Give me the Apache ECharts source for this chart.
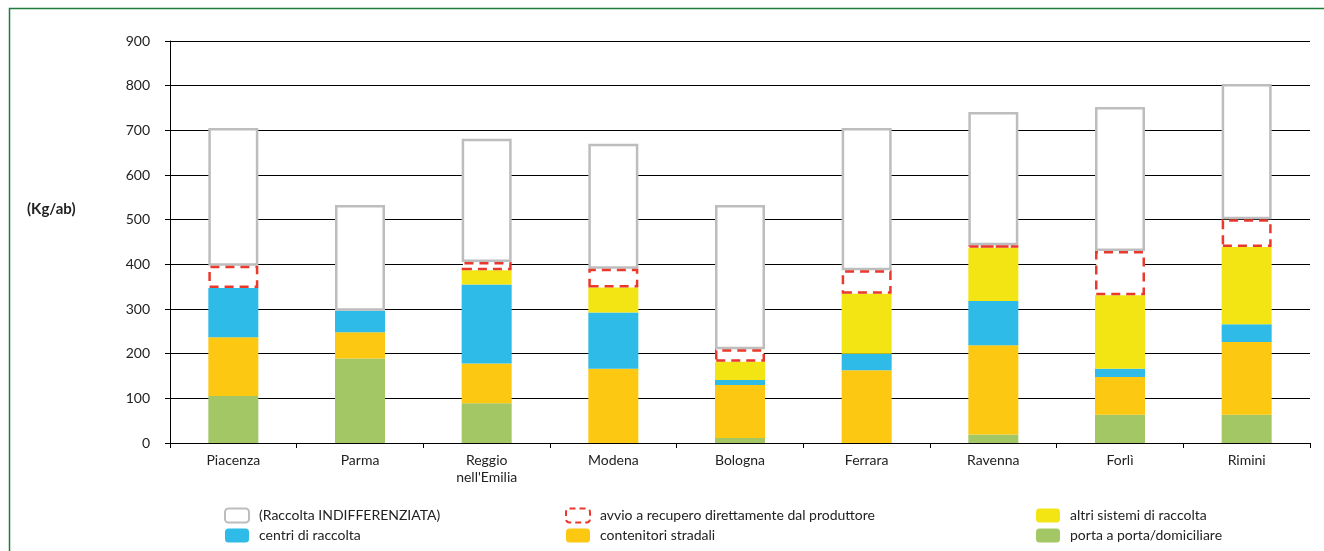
<!DOCTYPE html>
<html>
<head>
<meta charset="utf-8">
<script src="https://cdn.jsdelivr.net/npm/echarts@6/dist/echarts.min.js"></script>
<style>
html,body{margin:0;padding:0;background:#fff;}
#chart{width:1324px;height:551px;}
</style>
</head>
<body>
<div id="chart"></div>
<script>
const categories = ['Piacenza','Parma',"Reggio\nnell'Emilia",'Modena','Bologna','Ferrara','Ravenna','Forlì','Rimini'];
const yTicks = [0,100,200,300,400,500,600,700,800,900];
const porta = [105,189,89,0,11,0,19,63,63];
const contenitori = [132,59,89,166,119,163,200,85,163];
const centri = [110,48,177,126,11,37,99,18,40];
const altri = [0,0,32,56,41,134,119,165,173];
const avvio = [50,0,18,42,28,53,6,99,62];
const indifferenziata = [308,237,276,280,323,318,298,322,303];

const names = {
  ind: '(Raccolta INDIFFERENZIATA)',
  avv: 'avvio a recupero direttamente dal produttore',
  alt: 'altri sistemi di raccolta',
  cen: 'centri di raccolta',
  con: 'contenitori stradali',
  por: 'porta a porta/domiciliare'
};
const FONT = "Lato,'Open Sans',sans-serif";
const nz = a => a.map(v => v === 0 ? null : v);

function bar(name, data, style, z) {
  return {name, type:'bar', stack:'tot', data, barWidth:50, itemStyle:style, z:z||2,
    emphasis:{disabled:true}, silent:true};
}

const chart = echarts.init(document.getElementById('chart'), null, {renderer:'canvas'});
const legendBase = {orient:'vertical', top:507, padding:0, itemWidth:24, itemHeight:14, itemGap:3,
  textStyle:{fontFamily:FONT, fontSize:14, color:'#222', lineHeight:17, padding:[0,0,0,5]}, selectedMode:false};
chart.setOption({
  animation:false,
  grid:{left:170, right:14, top:41, bottom:108},
  xAxis:{type:'category', data:categories,
    axisLine:{lineStyle:{color:'#000', width:1}},
    axisTick:{show:true, length:5, lineStyle:{color:'#000'}},
    axisLabel:{fontFamily:FONT, fontSize:14, color:'#222', margin:9, lineHeight:17, interval:0}},
  yAxis:{type:'value', min:0, max:900, interval:100,
    axisLine:{show:true, lineStyle:{color:'#000'}},
    axisTick:{show:true, length:5, lineStyle:{color:'#000'}},
    axisLabel:{fontFamily:FONT, fontSize:14, color:'#222', margin:20,
      formatter: v => yTicks.indexOf(v) >= 0 ? String(v) : ''},
    splitLine:{lineStyle:{color:'#000', width:1}}},
  legend:[
    Object.assign({}, legendBase, {left:224, data:[
      {name:names.ind, itemStyle:{color:'#fff', borderColor:'#bdbdbd', borderWidth:2, borderType:'solid'}},
      {name:names.cen, itemStyle:{color:'#2ebbe8', borderWidth:0}}]}),
    Object.assign({}, legendBase, {left:565, data:[
      {name:names.avv, itemStyle:{color:'#fff', borderColor:'#e8392c', borderWidth:2, borderType:[6,4]}},
      {name:names.con, itemStyle:{color:'#fcc812', borderWidth:0}}]}),
    Object.assign({}, legendBase, {left:1036, data:[
      {name:names.alt, itemStyle:{color:'#f3e514', borderWidth:0}},
      {name:names.por, itemStyle:{color:'#a3c764', borderWidth:0}}]})
  ],
  graphic:[
    {type:'rect', shape:{x:9.5, y:8.5, width:1400, height:600}, style:{fill:null, stroke:'#1e7b3c', lineWidth:1.5}, silent:true},
    {type:'text', left:27, top:202, style:{text:'(Kg/ab)', font:"bold 15px " + FONT, fill:'#222'}}
  ],
  series:[
    bar(names.por, porta, {color:'#a3c764'}),
    bar(names.con, contenitori, {color:'#fcc812'}),
    bar(names.cen, centri, {color:'#2ebbe8'}),
    bar(names.alt, altri, {color:'#f3e514'}),
    bar(names.avv, nz(avvio), {color:'#fff', borderColor:'#e8392c', borderWidth:2.5, borderType:[9,6]}, 4),
    bar(names.ind, indifferenziata, {color:'#fff', borderColor:'#bdbdbd', borderWidth:2.5}, 3)
  ]
});
</script>
</body>
</html>
